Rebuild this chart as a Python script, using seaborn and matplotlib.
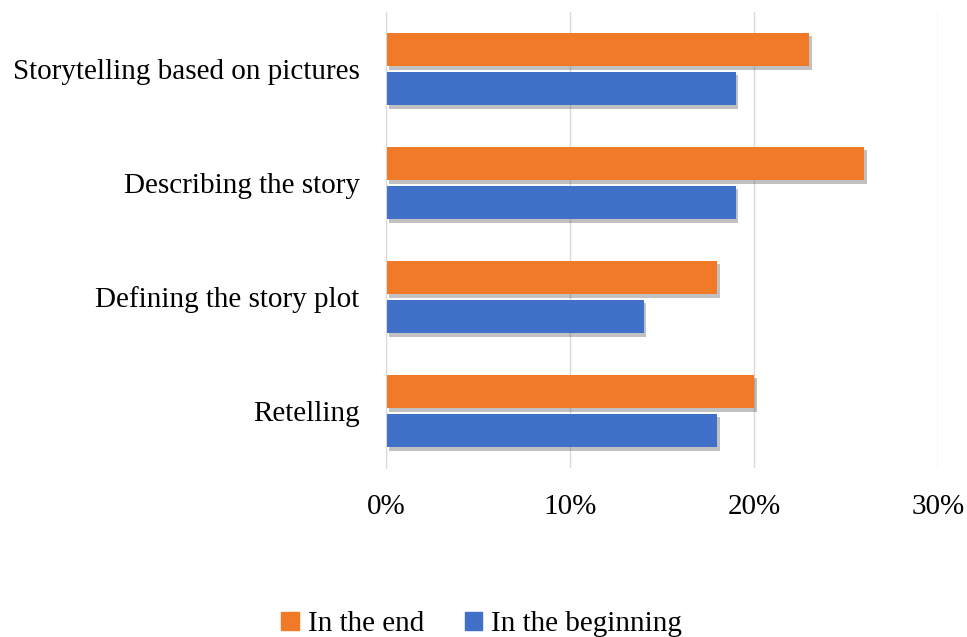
import pandas as pd
import numpy as np
import matplotlib
matplotlib.use('Agg')
import matplotlib.pyplot as plt
import matplotlib.patheffects as pe
from matplotlib.ticker import PercentFormatter
import seaborn as sns

# data
categories = ['Storytelling based on pictures', 'Describing the story',
              'Defining the story plot', 'Retelling']
in_the_end = [0.23, 0.26, 0.18, 0.20]
in_the_beginning = [0.19, 0.19, 0.14, 0.18]
series = ['In the end', 'In the beginning']
colors = ['#F07A28', '#4170C8']

df = pd.DataFrame({
    'category': categories * 2,
    'value': in_the_end + in_the_beginning,
    'series': [series[0]] * 4 + [series[1]] * 4,
})

sns.set_style('white')
plt.rcParams['font.family'] = ['Liberation Serif', 'DejaVu Serif']
plt.rcParams['text.color'] = 'black'

fig = plt.figure(figsize=(9.67, 6.37), dpi=100)
ax = fig.add_axes([386/967, 1 - 468/637, (938-386)/967, (468-12)/637])

sns.barplot(data=df, x='value', y='category', hue='series', hue_order=series,
            palette=colors, order=categories, width=0.68, gap=0.14,
            orient='h', ax=ax, saturation=1, legend=True, linewidth=0)

for bar in ax.patches:
    bar.set_path_effects([pe.SimplePatchShadow(offset=(2, -2.5), alpha=0.3, shadow_rgbFace='#333333'),
                          pe.Normal()])

ax.set_xlim(0, 0.30)
ax.set_ylim(3.5, -0.5)
ax.set_xticks([0, 0.1, 0.2, 0.3])
ax.xaxis.set_major_formatter(PercentFormatter(1.0, decimals=0))
ax.grid(axis='x', color='#d9d9d9', linewidth=1)
ax.set_axisbelow(True)
for s in ['top', 'right', 'bottom']:
    ax.spines[s].set_visible(False)
ax.spines['left'].set_color('#d9d9d9')
ax.set_xlabel('')
ax.set_ylabel('')
ax.tick_params(axis='both', length=0, labelsize=21, colors='black')
ax.tick_params(axis='x', pad=19)
ax.tick_params(axis='y', pad=19)

ax.legend_.remove()
handles = [plt.Rectangle((0, 0), 1, 1, color=c) for c in colors]
fig.legend(handles, series, loc='center', bbox_to_anchor=(0.498, 0.02), ncol=2,
           frameon=False, fontsize=21, handlelength=0.6, handleheight=0.6,
           handletextpad=0.3, columnspacing=1.4, labelcolor='black')

fig.savefig('out.png', dpi=100)
